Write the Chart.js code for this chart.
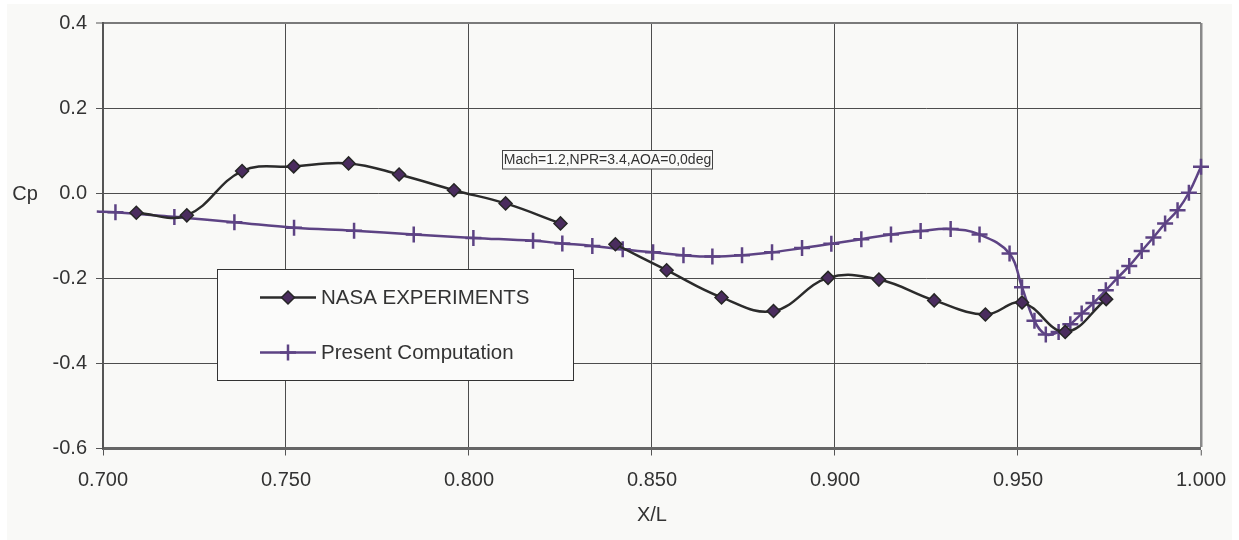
<!DOCTYPE html>
<html>
<head>
<meta charset="utf-8">
<script src="https://cdn.jsdelivr.net/npm/chart.js@4.4.1/dist/chart.umd.min.js"></script>
<style>
html, body { margin: 0; padding: 0; background: #ffffff; }
#wrap { width: 1239px; height: 540px; }
</style>
</head>
<body>
<div id="wrap"><canvas id="c" width="1239" height="540"></canvas></div>
<script>
// ---- data ----
const nasaX  = [0.7091, 0.7229, 0.7380, 0.7521, 0.7671, 0.7809, 0.7959, 0.8100, 0.8250, 0.8325, 0.8400, 0.8540, 0.8690, 0.8832, 0.8981, 0.9120, 0.9271, 0.9411, 0.9511, 0.9629, 0.9741];
const nasaCp = [-0.046, -0.052, 0.052, 0.063, 0.070, 0.044, 0.007, -0.024, -0.071, null, -0.120, -0.181, -0.245, -0.277, -0.199, -0.203, -0.252, -0.285, -0.257, -0.326, -0.249];

const compX  = [0.6983, 0.7034, 0.7195, 0.7359, 0.7522, 0.7686, 0.7849, 0.8012, 0.8175, 0.8255, 0.8337, 0.8420, 0.8503, 0.8586, 0.8665, 0.8746, 0.8828, 0.8910, 0.8990, 0.9072, 0.9153, 0.9234, 0.9316, 0.9395, 0.9477, 0.9511, 0.9545, 0.9576, 0.9611, 0.9643, 0.9674, 0.9706, 0.9740, 0.9772, 0.9804, 0.9838, 0.9870, 0.9902, 0.9936, 0.9967, 1.0000];
const compCp = [-0.043, -0.045, -0.056, -0.068, -0.081, -0.088, -0.097, -0.105, -0.112, -0.118, -0.124, -0.132, -0.139, -0.146, -0.149, -0.146, -0.139, -0.129, -0.119, -0.108, -0.097, -0.089, -0.084, -0.097, -0.142, -0.221, -0.300, -0.332, -0.326, -0.308, -0.283, -0.258, -0.228, -0.199, -0.171, -0.136, -0.104, -0.071, -0.040, 0.001, 0.062];

const xTicks = [0.700, 0.750, 0.800, 0.850, 0.900, 0.950, 1.000];
const yTicks = [-0.6, -0.4, -0.2, 0.0, 0.2, 0.4];
const seriesNames = ['NASA EXPERIMENTS', 'Present Computation'];
const xTitle = 'X/L';
const yTitle = 'Cp';
const noteText = 'Mach=1.2,NPR=3.4,AOA=0,0deg';

// ---- styles ----
const FONT = '"Liberation Sans", Arial, sans-serif';
const TEXT = '#333333';
const NASA_LINE = '#2b2b2b';
const NASA_FILL = '#4a2c5e';
const COMP = '#5d4384';
const X_MIN = xTicks[0], X_MAX = xTicks[xTicks.length - 1];
const Y_MIN = yTicks[0], Y_MAX = yTicks[yTicks.length - 1];

function drawDiamond(ctx, x, y, r) {
  ctx.beginPath();
  ctx.moveTo(x - r, y); ctx.lineTo(x, y - r); ctx.lineTo(x + r, y); ctx.lineTo(x, y + r); ctx.closePath();
  ctx.fillStyle = NASA_FILL; ctx.fill();
  ctx.lineWidth = 1.5; ctx.strokeStyle = '#262626'; ctx.stroke();
}
function drawCross(ctx, x, y, r) {
  ctx.beginPath();
  ctx.moveTo(x - r, y); ctx.lineTo(x + r, y);
  ctx.moveTo(x, y - r); ctx.lineTo(x, y + r);
  ctx.lineWidth = 2.5; ctx.strokeStyle = COMP; ctx.stroke();
}

const panelPlugin = {
  id: 'panel',
  beforeDraw(chart) {
    const ctx = chart.ctx;
    ctx.save();
    ctx.fillStyle = '#ffffff';
    ctx.fillRect(0, 0, chart.width, chart.height);
    ctx.fillStyle = '#f9f9f7';
    ctx.fillRect(7, 4, chart.width - 14, chart.height - 4);
    ctx.restore();
  }
};

const overlayPlugin = {
  id: 'overlay',
  afterDraw(chart) {
    const ctx = chart.ctx;
    ctx.save();
    // Cp label (horizontal)
    ctx.fillStyle = TEXT;
    ctx.font = '20px ' + FONT;
    ctx.textAlign = 'center';
    ctx.textBaseline = 'middle';
    ctx.fillText(yTitle, 25, 194);

    // Legend box
    const lx = 217.5, ly = 269.5, lw = 356, lh = 111;
    ctx.fillStyle = '#fbfbfa';
    ctx.fillRect(lx, ly, lw, lh);
    ctx.lineWidth = 1; ctx.strokeStyle = '#333333';
    ctx.strokeRect(lx, ly, lw, lh);
    const rows = [297.5, 352.5];
    // row 1
    ctx.beginPath(); ctx.moveTo(260, rows[0]); ctx.lineTo(316, rows[0]);
    ctx.lineWidth = 2.5; ctx.strokeStyle = NASA_LINE; ctx.stroke();
    drawDiamond(ctx, 288, rows[0], 6.5);
    // row 2
    ctx.beginPath(); ctx.moveTo(260, rows[1]); ctx.lineTo(316, rows[1]);
    ctx.lineWidth = 2.5; ctx.strokeStyle = COMP; ctx.stroke();
    drawCross(ctx, 288, rows[1], 8);
    ctx.fillStyle = TEXT;
    ctx.font = '20.5px ' + FONT;
    ctx.textAlign = 'left';
    ctx.textBaseline = 'middle';
    ctx.fillText(seriesNames[0], 321, rows[0] + 1);
    ctx.fillText(seriesNames[1], 321, rows[1] + 1);

    // annotation box
    const ax = 502.5, ay = 150.5, aw = 210, ah = 18.5;
    ctx.fillStyle = '#fafaf9';
    ctx.fillRect(ax, ay, aw, ah);
    ctx.lineWidth = 1; ctx.strokeStyle = '#444444';
    ctx.strokeRect(ax, ay, aw, ah);
    ctx.fillStyle = TEXT;
    ctx.font = '14px ' + FONT;
    ctx.textAlign = 'center';
    ctx.textBaseline = 'middle';
    ctx.fillText(noteText, ax + aw / 2, ay + ah / 2 + 0.5);
    ctx.restore();
  }
};

new Chart(document.getElementById('c'), {
  type: 'line',
  data: {
    datasets: [
      {
        label: seriesNames[0],
        data: nasaX.map((x, i) => ({ x: x, y: nasaCp[i] })),
        borderColor: NASA_LINE,
        borderWidth: 2.5,
        pointStyle: 'rectRot',
        pointRadius: 6.5,
        pointBackgroundColor: NASA_FILL,
        pointBorderColor: '#262626',
        pointBorderWidth: 1.5,
        tension: 0.4,
        spanGaps: false,
        clip: 12
      },
      {
        label: seriesNames[1],
        data: compX.map((x, i) => ({ x: x, y: compCp[i] })),
        borderColor: COMP,
        borderWidth: 2.5,
        pointStyle: 'cross',
        pointRadius: (c) => (c.raw && c.raw.x < X_MIN ? 0 : 8),
        pointBorderColor: COMP,
        pointBorderWidth: 2.5,
        tension: 0.4,
        clip: 12
      }
    ]
  },
  options: {
    responsive: false,
    animation: false,
    devicePixelRatio: 1,
    layout: { padding: { left: 0, right: 36, top: 23, bottom: 0 } },
    plugins: { legend: { display: false }, tooltip: { enabled: false } },
    scales: {
      x: {
        type: 'linear',
        min: X_MIN, max: X_MAX,
        afterBuildTicks: (s) => { s.ticks = xTicks.map(v => ({ value: v })); },
        afterFit: (s) => { s.height = 91.5; },
        ticks: {
          callback: (v) => Number(v).toFixed(3),
          color: TEXT, font: { family: FONT, size: 20 }, padding: 13,
          maxRotation: 0, autoSkip: false
        },
        grid: {
          color: (c) => {
            const v = c.tick ? c.tick.value : 0;
            if (Math.abs(v - X_MIN) < 1e-9) return 'rgba(0,0,0,0)';
            if (Math.abs(v - X_MAX) < 1e-9) return '#8a8a8a';
            return '#4d4d4d';
          },
          lineWidth: (c) => {
            const v = c.tick ? c.tick.value : 0;
            return Math.abs(v - X_MAX) < 1e-9 ? 2.5 : 1;
          },
          tickLength: 7, tickColor: '#555555', tickWidth: 1
        },
        border: { color: '#666666', width: 3 },
        title: {
          display: true, text: xTitle, color: TEXT,
          font: { family: FONT, size: 20 }, padding: { top: 4, bottom: 13 }
        }
      },
      y: {
        type: 'linear',
        min: Y_MIN, max: Y_MAX,
        afterBuildTicks: (s) => { s.ticks = yTicks.map(v => ({ value: v })); },
        afterFit: (s) => { s.width = 103; },
        ticks: {
          callback: (v) => Number(v).toFixed(1),
          color: TEXT, font: { family: FONT, size: 20 }, padding: 9
        },
        grid: {
          color: (c) => {
            const v = c.tick ? c.tick.value : 0;
            if (Math.abs(v - Y_MIN) < 1e-9) return 'rgba(0,0,0,0)';
            if (Math.abs(v - Y_MAX) < 1e-9) return '#7a7a7a';
            return '#4d4d4d';
          },
          lineWidth: (c) => {
            const v = c.tick ? c.tick.value : 0;
            return Math.abs(v - Y_MAX) < 1e-9 ? 2 : 1;
          },
          tickLength: 7, tickColor: '#555555', tickWidth: 1
        },
        border: { color: '#555555', width: 2 }
      }
    }
  },
  plugins: [panelPlugin, overlayPlugin]
});
</script>
</body>
</html>
